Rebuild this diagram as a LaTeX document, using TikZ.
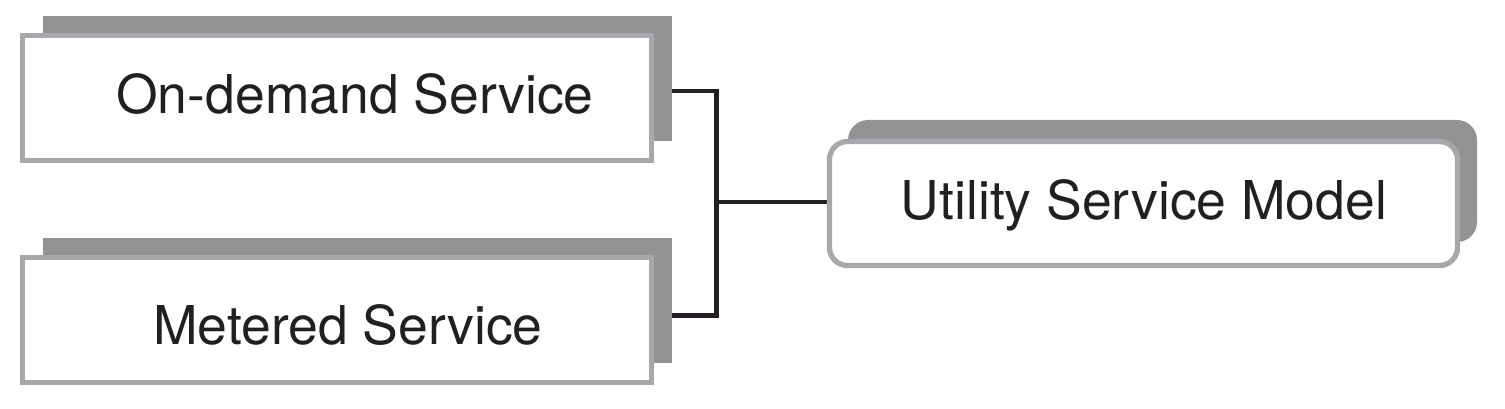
\documentclass[tikz,border=0pt]{standalone}
\usepackage{fontspec}
\setmainfont{TeX Gyre Heros}
\usetikzlibrary{calc}
\definecolor{shadowgray}{HTML}{939393}
\definecolor{bordergray}{HTML}{A7A8AC}
\definecolor{ink}{HTML}{231F20}
\begin{document}
\begin{tikzpicture}[x=1pt,y=-1pt,
  shadowbox/.style={rectangle,fill=shadowgray,draw=none,inner sep=0pt},
  mainbox/.style={rectangle,fill=white,draw=bordergray,line width=5.3pt,inner sep=0pt},
  label/.style={anchor=base,text=ink,inner sep=0pt,font=\fontsize{53.5}{60}\selectfont},
  conn/.style={draw=ink,line width=4.8pt,line join=miter}]
\useasboundingbox (0,0) rectangle (1505,409);
% shadows
\node[shadowbox,minimum width=629pt,minimum height=125pt] (sh1) at (357.5,78.5) {};
\node[shadowbox,minimum width=629pt,minimum height=125pt] (sh2) at (357.5,300.5) {};
\node[shadowbox,rounded corners=20pt,minimum width=629pt,minimum height=122pt] (sh3) at (1162.5,181) {};
% connectors
\coordinate (j) at (716.8,202);
\draw[conn] ([yshift=-12.5pt]sh1.east) -| (j);
\draw[conn] ([yshift=-15pt]sh2.east) -| (j);
\draw[conn] (j) -- (827,202);
% boxes
\node[mainbox,minimum width=629pt,minimum height=125pt] (b1) at (337,98) {};
\node[mainbox,minimum width=629pt,minimum height=125pt] (b2) at (337,320) {};
\node[mainbox,rounded corners=18pt,minimum width=628pt,minimum height=124pt] (b3) at (1143.5,203.5) {};
% labels
\node[label] (t1) at (355,114) {On-demand Service};
\node[label] (t2) at (348,344) {Metered Service};
\node[label] (t3) at (1144,219) {Utility Service Model};
\end{tikzpicture}
\end{document}
